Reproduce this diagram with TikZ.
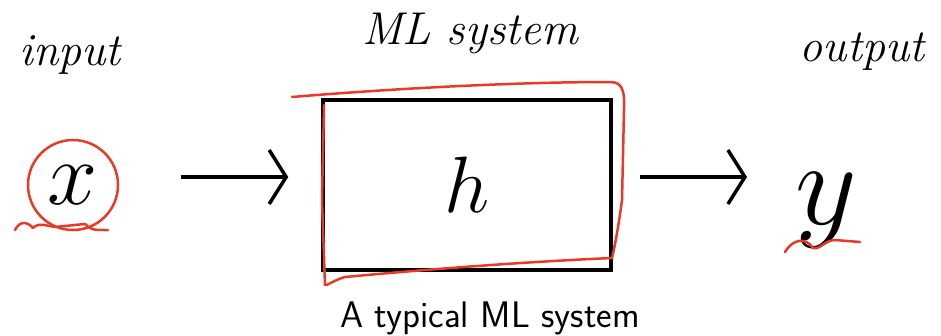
\RequirePackage{fix-cm}
\documentclass[tikz,border=0pt]{standalone}
\usepackage{tikz}
\usetikzlibrary{arrows.meta, positioning, calc}
\definecolor{penred}{RGB}{232,58,38}
\tikzset{
  hand/.style  = {font=\fontsize{46}{52}\selectfont\itshape},
  symb/.style  = {font=\fontsize{80}{88}\selectfont, inner sep=0pt},
  mlbox/.style = {rectangle, draw, line width=3.5pt,
    minimum width=288pt, minimum height=170pt},
  arrow/.style = {line width=3.5pt, -{Straight Barb[length=17pt,width=54pt]}},
  redpen/.style = {draw=penred, line width=2.5pt, line cap=round, line join=round},
}

\begin{document}
\begin{tikzpicture}[x=1pt, y=-1pt]
  \useasboundingbox (0,0) rectangle (941,335);
  \node[mlbox] (sys) at (467,185) {};
  \node[symb] (h) at (sys.center) {$h$};
  \node[symb, circle, redpen, minimum size=90pt, font=\fontsize{90}{96}\selectfont] (x) at (73,185) {$x$};
  \node[symb, font=\fontsize{120}{130}\selectfont] (y) at (826,210) {$y$};
  \node[hand] (inlab) at (70,55) {input};
  \node[hand] (syslab) at (470,33) {ML system};
  \node[hand] (outlab) at (862,52) {output};
  \node[font=\fontsize{37}{44}\selectfont\sffamily] (cap) at (490,318) {A typical ML system};

  \draw[arrow, shorten <=62pt, shorten >=33pt] ([yshift=8pt]x.east) -- ([yshift=8pt]sys.west);
  \draw[arrow, shorten <=27pt, shorten >=79pt] ([yshift=8pt]sys.east) -- ([yshift=33pt]y.center);

  % red pen marks
  \draw[redpen] (292,97) .. controls (400,88) and (520,82) .. (610,82)
    .. controls (622,82) and (625,90) .. (624,110) -- (622,200)
    .. controls (618,230) and (614,250) .. (612,258)
    .. controls (520,262) and (420,270) .. (345,277)
    .. controls (332,281) and (327,286) .. (325,285)
    -- (322,200) -- (324,105);
  \draw[redpen] (15,230) .. controls (20,220) and (28,222) .. (33,228)
    .. controls (38,222) and (48,226) .. (55,227) -- (85,224)
    .. controls (92,230) .. (108,230);
  \draw[redpen] (785,252) .. controls (792,240) and (805,236) .. (813,248)
    .. controls (820,250) and (825,240) .. (835,240) -- (860,242);
\end{tikzpicture}
\end{document}
